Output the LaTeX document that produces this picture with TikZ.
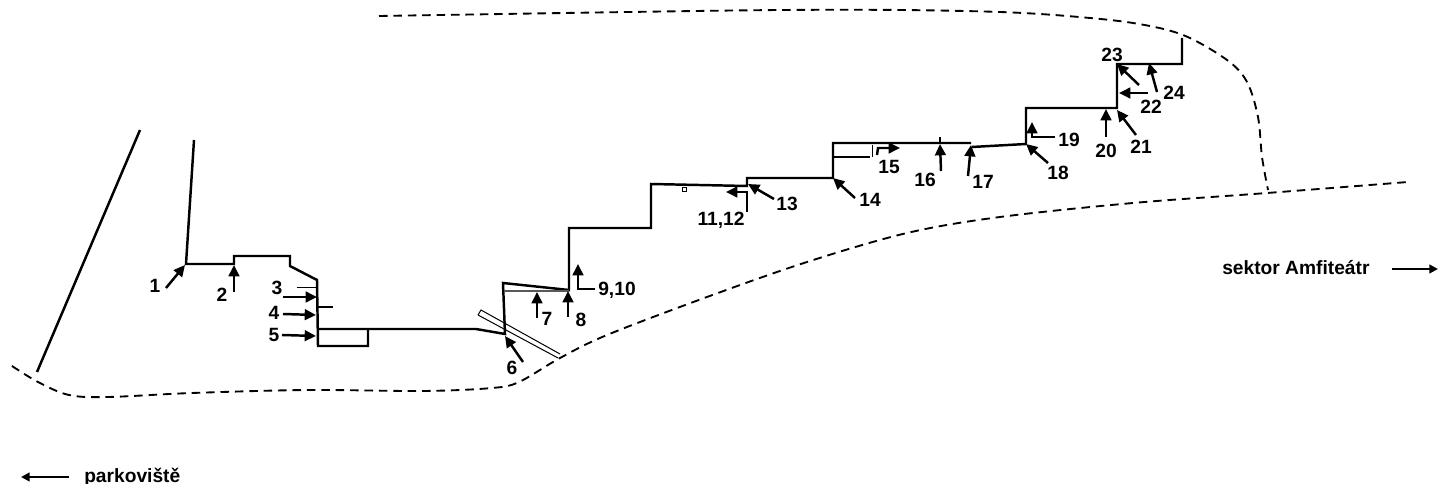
\documentclass[tikz,border=0pt]{standalone}
\usepackage{fontspec}
\setmainfont{Liberation Sans}
\usetikzlibrary{arrows.meta}
\tikzset{
  wall/.style={line width=1.85pt,line join=miter,line cap=butt},
  thin wall/.style={line width=0.75pt},
  pale wall/.style={line width=0.9pt,draw=black!65},
  border/.style={line width=1.4pt,dash pattern=on 6.4pt off 4.4pt},
  pointer/.style={line width=1.85pt,-{Triangle[length=8.5pt,width=8pt]}},
  farrow/.style={line width=1.6pt,-{Triangle[length=6.5pt,width=6.5pt]}},
  num/.style={font=\fontsize{14.4pt}{16pt}\selectfont\bfseries,inner sep=0pt},
  caption/.style={font=\fontsize{14.4pt}{16pt}\selectfont\bfseries,inner sep=0pt,anchor=base west}
}
\begin{document}
\begin{tikzpicture}[x=0.75pt,y=-0.75pt]
\path[use as bounding box] (0,0) rectangle (1438,484);
% dashed outlines
\draw[border] plot[smooth,tension=0.55] coordinates {(379,16) (629,12) (781,10) (900,10) (1000,12) (1067,16) (1133,23) (1183,35) (1227,60) (1247,82) (1258,117) (1262,157) (1268,190)};
\draw[border] plot[smooth,tension=0.55] coordinates {(12,366) (38,382) (69,395) (108,397) (192,393) (308,390) (423,391) (492,388) (519,382) (560,358) (607,335) (707,297) (807,262) (907,233) (1000,217) (1133,203) (1267,193) (1408,182)};
% free lines
\coordinate (la) at (140,130); \coordinate (lb) at (37,372);
\draw[line width=1.85pt] (la) -- (lb);
% main wall
\coordinate (w0) at (194,140); \coordinate (w1) at (186,264); \coordinate (w2) at (234,264);
\coordinate (w3) at (234,256); \coordinate (w4) at (290,256); \coordinate (w5) at (290,266);
\coordinate (w6) at (317,280); \coordinate (w7) at (318,346); \coordinate (w8) at (368,346);
\coordinate (w9) at (368,329); \coordinate (w10) at (318,329); \coordinate (w11) at (476,329);
\coordinate (w12) at (505,334); \coordinate (w13) at (503,283); \coordinate (w14) at (569,290);
\coordinate (w15) at (569,228); \coordinate (w16) at (651,228); \coordinate (w17) at (651,184);
\coordinate (w18) at (747,186); \coordinate (w19) at (747,178); \coordinate (w20) at (833,178);
\coordinate (w21) at (833,143); \coordinate (w22) at (971,143); \coordinate (w23) at (972,147);
\coordinate (w24) at (1026,144); \coordinate (w25) at (1026,108); \coordinate (w26) at (1117,108);
\coordinate (w27) at (1117,64); \coordinate (w28) at (1182,64); \coordinate (w29) at (1182,38);
\draw[wall] (w0) -- (w1) -- (w2) -- (w3) -- (w4) -- (w5) -- (w6) -- (w7) -- (w8) -- (w9);
\draw[wall] (w10) -- (w11) -- (w12) -- (w13) -- (w14) -- (w15) -- (w16) -- (w17) -- (w18) -- (w19) -- (w20) -- (w21) -- (w22);
\draw[wall] (w23) -- (w24) -- (w25) -- (w26) -- (w27) -- (w28) -- (w29);
% small details
\coordinate (t1a) at (297,288); \coordinate (t1b) at (317,288);
\draw[thin wall] (t1a) -- (t1b);
\coordinate (t2a) at (318,307); \coordinate (t2b) at (333,307);
\draw[line width=1.4pt] (t2a) -- (t2b);
\coordinate (t3a) at (505,291); \coordinate (t3b) at (569,291);
\draw[pale wall] (t3a) -- (t3b);
\coordinate (b1) at (481,310); \coordinate (b2) at (560,354); \coordinate (b3) at (478,315); \coordinate (b4) at (558,358);
\draw[thin wall] (b3) -- (b1) -- (b2);
\draw[thin wall] (b3) -- (b4);
\coordinate (s1) at (833,157); \coordinate (s2) at (870,157);
\draw[line width=0.9pt] (s1) -- (s2);
\coordinate (s3) at (872,145); \coordinate (s4) at (872,157);
\draw[thin wall] (s3) -- (s4);
\coordinate (k1) at (940,137); \coordinate (k2) at (940,143);
\draw[line width=1.4pt] (k1) -- (k2);
\node[draw,line width=0.6pt,minimum size=3pt,inner sep=0pt,fill=white] (sq) at (684,189) {};
% pointers
\coordinate (p1a) at (166,288); \coordinate (p1b) at (185,265); \draw[pointer] (p1a) -- (p1b);
\coordinate (p2a) at (234,292); \coordinate (p2b) at (234,265); \draw[pointer] (p2a) -- (p2b);
\coordinate (p3a) at (283,297); \coordinate (p3b) at (317,297); \draw[pointer] (p3a) -- (p3b);
\coordinate (p4a) at (283,314); \coordinate (p4b) at (316,315); \draw[pointer] (p4a) -- (p4b);
\coordinate (p5a) at (282,335); \coordinate (p5b) at (316,336); \draw[pointer] (p5a) -- (p5b);
\coordinate (p6a) at (523,362); \coordinate (p6b) at (505,336); \draw[pointer] (p6a) -- (p6b);
\coordinate (p7a) at (537,318); \coordinate (p7b) at (537,292); \draw[pointer] (p7a) -- (p7b);
\coordinate (p8a) at (568,317); \coordinate (p8b) at (568,291); \draw[pointer] (p8a) -- (p8b);
\coordinate (p9a) at (595,289); \coordinate (p9c) at (578,289); \coordinate (p9b) at (578,264); \draw[pointer] (p9a) -- (p9c) -- (p9b);
\coordinate (p11a) at (747,212); \coordinate (p11c) at (747,192); \coordinate (p11b) at (726,192); \draw[pointer] (p11a) -- (p11c) -- (p11b);
\coordinate (p13a) at (774,199); \coordinate (p13b) at (748,184); \draw[pointer] (p13a) -- (p13b);
\coordinate (p14a) at (855,198); \coordinate (p14b) at (833,178); \draw[pointer] (p14a) -- (p14b);
\coordinate (p15a) at (877,155); \coordinate (p15c) at (878,148); \coordinate (p15b) at (900,148); \draw[pointer] (p15a) -- (p15c) -- (p15b);
\coordinate (p16a) at (941,171); \coordinate (p16b) at (940,144); \draw[pointer] (p16a) -- (p16b);
\coordinate (p17a) at (968,176); \coordinate (p17b) at (971,145); \draw[pointer] (p17a) -- (p17b);
\coordinate (p18a) at (1048,163); \coordinate (p18b) at (1026,144); \draw[pointer] (p18a) -- (p18b);
\coordinate (p19a) at (1055,137); \coordinate (p19c) at (1032,137); \coordinate (p19b) at (1032,122); \draw[pointer] (p19a) -- (p19c) -- (p19b);
\coordinate (p20a) at (1106,137); \coordinate (p20b) at (1106,109); \draw[pointer] (p20a) -- (p20b);
\coordinate (p21a) at (1136,135); \coordinate (p21b) at (1117,110); \draw[pointer] (p21a) -- (p21b);
\coordinate (p22a) at (1148,93); \coordinate (p22b) at (1119,93); \draw[pointer] (p22a) -- (p22b);
\coordinate (p23a) at (1139,85); \coordinate (p23b) at (1117,64); \draw[pointer] (p23a) -- (p23b);
\coordinate (p24a) at (1157,92); \coordinate (p24b) at (1149,63); \draw[pointer] (p24a) -- (p24b);
% numbers
\node[num] (n1) at (155,286) {1};
\node[num] (n2) at (222,295) {2};
\node[num] (n3) at (277,288) {3};
\node[num] (n4) at (274,313) {4};
\node[num] (n5) at (274,335) {5};
\node[num] (n6) at (512,368) {6};
\node[num] (n7) at (547,319) {7};
\node[num] (n8) at (581,320) {8};
\node[num] (n9) at (617,290) {9,10};
\node[num] (n11) at (721,220) {11,12};
\node[num] (n13) at (787,204) {13};
\node[num] (n14) at (870,200) {14};
\node[num] (n15) at (889,167) {15};
\node[num] (n16) at (925,180) {16};
\node[num] (n17) at (983,182) {17};
\node[num] (n18) at (1058,173) {18};
\node[num] (n19) at (1069,140) {19};
\node[num] (n20) at (1106,151) {20};
\node[num] (n21) at (1141,147) {21};
\node[num] (n22) at (1151,107) {22};
\node[num] (n23) at (1112,55) {23};
\node[num] (n24) at (1174,93) {24};
% captions
\node[caption] (park) at (84,482) {parkoviště};
\coordinate (parkb) at (69,477); \coordinate (parka) at (21,477);
\draw[farrow] (parkb) -- (parka);
\node[caption] (amf) at (1222,275) {sektor Amfiteátr};
\coordinate (amfa) at (1392,269); \coordinate (amfb) at (1438,269);
\draw[farrow] (amfa) -- (amfb);
\end{tikzpicture}
\end{document}
